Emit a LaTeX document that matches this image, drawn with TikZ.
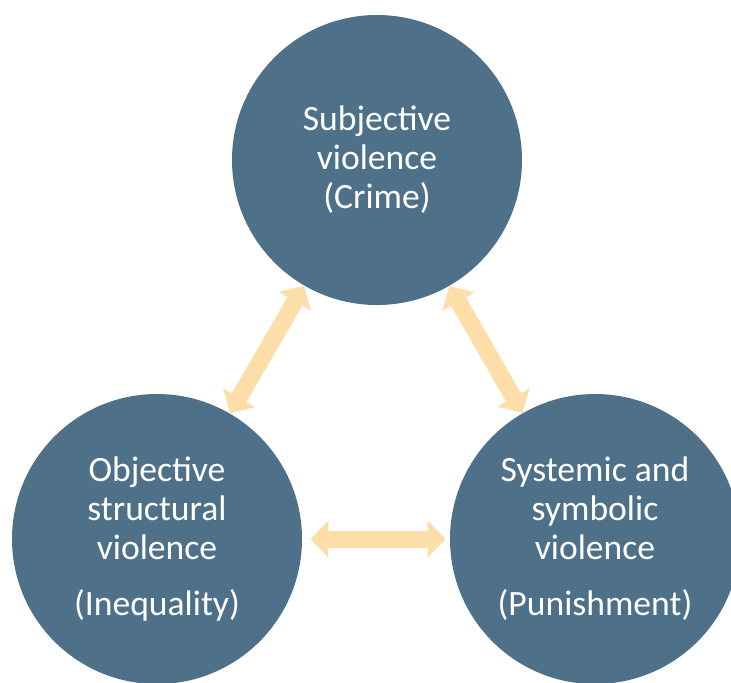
\documentclass[tikz,border=0pt]{standalone}
\usepackage{fontspec}
\setmainfont{Carlito}
\usetikzlibrary{arrows.meta}
\definecolor{circblue}{HTML}{4E7189}
\definecolor{peach}{HTML}{FDDDA8}
\tikzstyle{bignode}=[circle,inner sep=0mm,minimum size=145pt,fill=circblue,text=white,align=center,font=\fontsize{17.8}{19.5}\selectfont]
\tikzstyle{link}=[{Triangle[length=9pt,width=18pt]}-{Triangle[length=9pt,width=18pt]},line width=8.5pt,draw=peach]

\begin{document}
\begin{tikzpicture}[x=0.5pt,y=-0.5pt]
\useasboundingbox (0,0) rectangle (731,682);
\clip (0,0) rectangle (731,682);

\node (crime) at (377,160) [bignode] {Subjective\\violence\\(Crime)};
\node (inequal) at (157,539) [bignode] {Objective\\structural\\violence\\[8.5pt](Inequality)};
\node (punish) at (595,539) [bignode] {Systemic and\\symbolic\\violence\\[8.5pt](Punishment)};

\draw[link] (crime) -- (inequal);
\draw[link] (crime) -- (punish);
\draw[link, shorten <=4pt, shorten >=2pt] (inequal) -- (punish);

\end{tikzpicture}
\end{document}
